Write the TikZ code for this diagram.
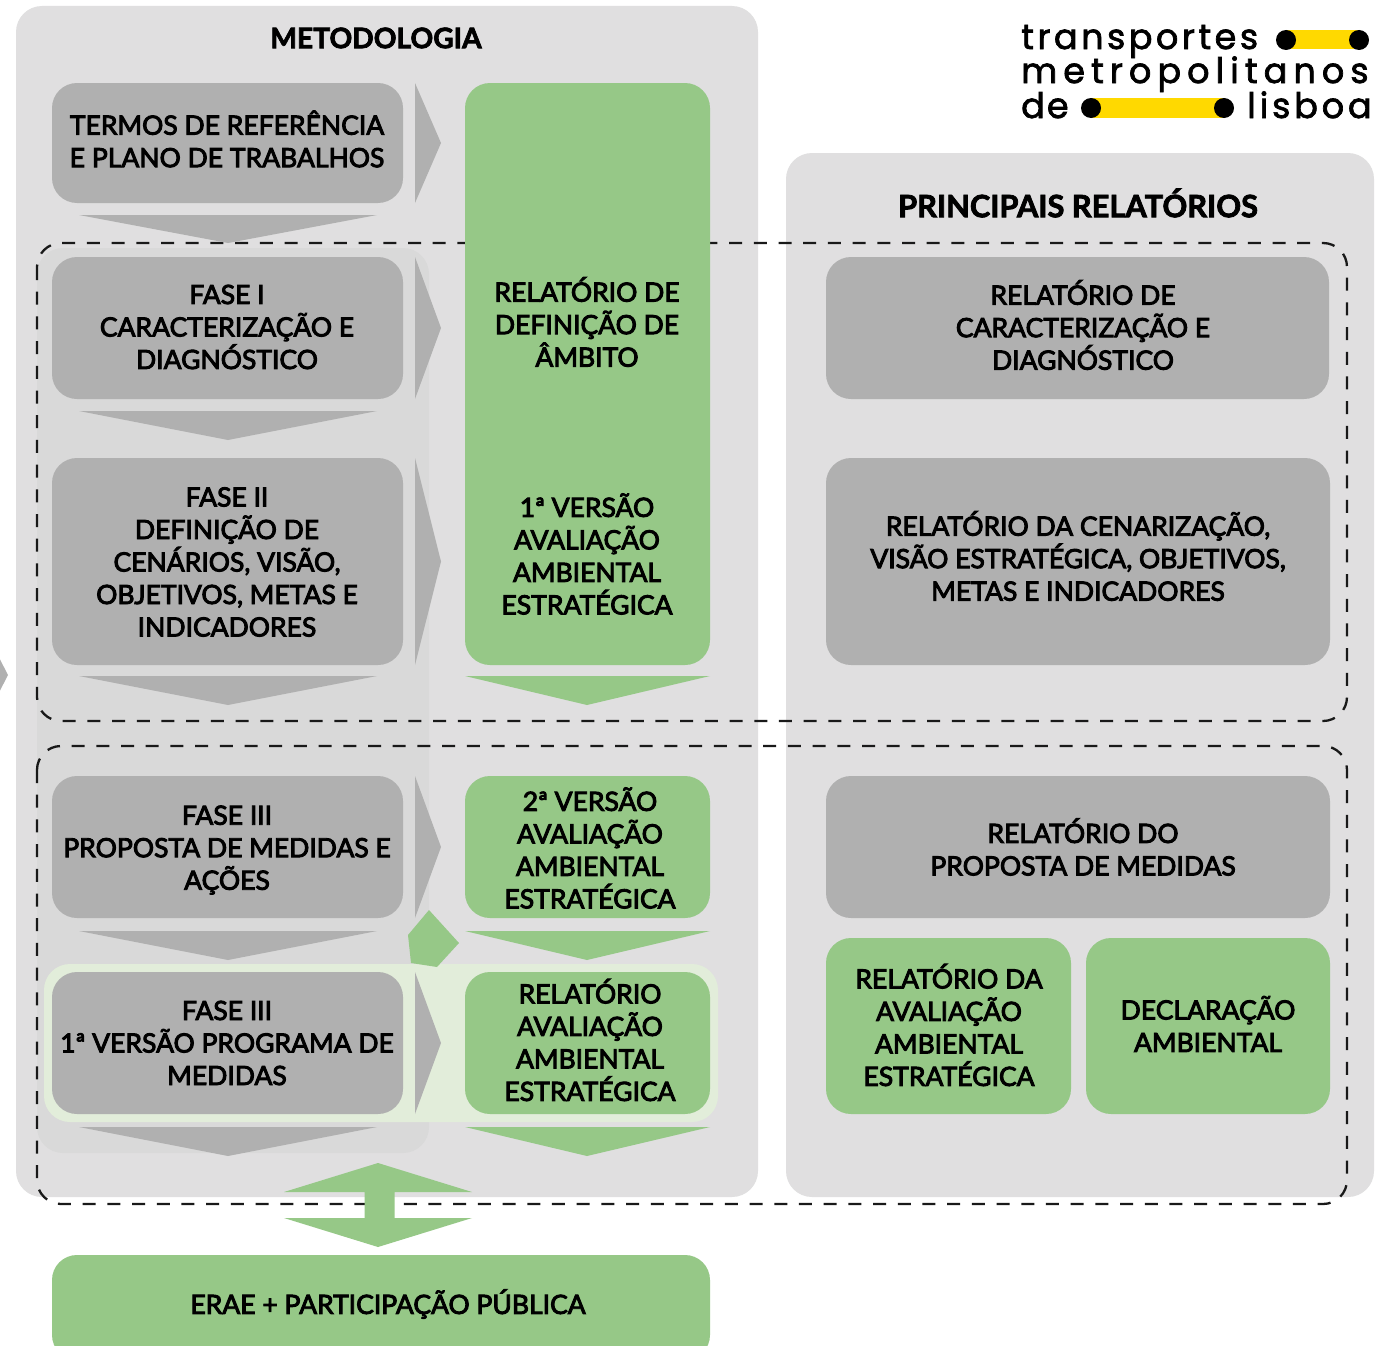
\documentclass[tikz,border=0pt]{standalone}
\usepackage{fontspec}
\setmainfont{Lato}[FakeBold=3.5]
\newfontfamily\titlefont{Lato Bold}[FakeBold=2.5]
\newfontfamily\logofont{Poppins}[FakeBold=2]
\definecolor{panel}{HTML}{E0DFE0}
\definecolor{layer}{HTML}{D9D9D9}
\definecolor{boxgray}{HTML}{B0B0B0}
\definecolor{boxgreen}{HTML}{96C887}
\definecolor{band}{HTML}{E2EDDA}
\definecolor{logoyellow}{HTML}{FFD900}
\newcommand{\bx}[6]{\node[#6,minimum width=#4pt-#2pt,minimum height=#5pt-#3pt] (#1) at ({(#2+#4)/2},{(#3+#5)/2}) {};}
\newcommand{\rarrow}[2]{\fill[boxgray] (415,#1) -- (441,{(#1+#2)/2}) -- (415,#2) -- cycle;}
\newcommand{\spaced}[2]{{\addfontfeature{LetterSpace=#1}#2}}
\tikzset{
  x=1pt,y=-1pt,
  box/.style={rounded corners=25pt,inner sep=0pt,outer sep=0pt,draw=none},
  graybox/.style={box,fill=boxgray},
  greenbox/.style={box,fill=boxgreen},
  panelbox/.style={rounded corners=26pt,inner sep=0pt,outer sep=0pt,fill=panel},
  label/.style={align=center,font=\fontsize{26.5}{32.5}\selectfont,text=black,inner sep=0pt},
  head/.style={font=\titlefont\fontsize{28.2}{32}\selectfont,text=black,inner sep=0pt},
  dashbox/.style={draw=black!90,line width=2.3pt,dash pattern=on 13pt off 11.7pt,rounded corners=24pt},
  logotext/.style={font=\logofont\fontsize{35}{35}\selectfont,anchor=base west,inner sep=0pt,text=black},
}
\begin{document}
\begin{tikzpicture}
\useasboundingbox (0,0) rectangle (1376,1346);
\clip (0,0) rectangle (1376,1346);
\fill[white] (0,0) rectangle (1376,1346);
% panels
\bx{pm}{16}{6}{758}{1197}{panelbox}
\bx{pr}{786}{153}{1374}{1197}{panelbox}
\bx{ly}{37}{248}{429}{1153}{panelbox,fill=layer}
\fill[boxgray] (-10,640) -- (8,675) -- (-10,710) -- cycle;
% dashed groups
\draw[dashbox] (37,243) rectangle (1347,721);
\draw[dashbox] (37,746) rectangle (1347,1204);
% highlighted band
\bx{bd}{44}{964}{718}{1122}{panelbox,fill=band}
% arrows
\rarrow{83}{203}\rarrow{257}{399}\rarrow{458}{665}\rarrow{776}{918}\rarrow{972}{1114}
\foreach \ya/\yb in {215/243,411/440,676/705,931/960,1127/1156}{
  \fill[boxgray] (79,\ya) -- (377,\ya) -- (228,\yb) -- cycle;
}
\foreach \ya/\yb in {676/705,931/960,1127/1156}{
  \fill[boxgreen] (465,\ya) -- (710,\ya) -- (587,\yb) -- cycle;
}
\fill[boxgreen] (429,910) -- (459,943) -- (437,967) -- (411,963) -- (408,935) -- cycle;
\fill[boxgreen] (378,1163) -- (472,1192) -- (394.5,1192) -- (394.5,1218) -- (472,1218) -- (378,1247) -- (284,1218) -- (364.5,1218) -- (364.5,1192) -- (284,1192) -- cycle;
% boxes
\bx{t0}{52}{83}{403}{203}{graybox}
\bx{f1}{52}{257}{403}{399}{graybox}
\bx{f2}{52}{458}{403}{665}{graybox}
\bx{f3}{52}{776}{403}{918}{graybox}
\bx{f4}{52}{972}{403}{1114}{graybox}
\bx{g1}{465}{83}{710}{665}{greenbox}
\bx{g2}{465}{776}{710}{918}{greenbox}
\bx{g3}{465}{972}{710}{1114}{greenbox}
\bx{r1}{826}{257}{1329}{399}{graybox}
\bx{r2}{826}{458}{1330}{665}{graybox}
\bx{r3}{826}{776}{1330}{918}{graybox}
\bx{r4}{826}{938}{1071}{1114}{greenbox}
\bx{r5}{1086}{938}{1330}{1114}{greenbox}
\bx{er}{52}{1255}{710}{1360}{greenbox}
% titles
\node[head] (tm) at (376,38) {METODOLOGIA};
\node[head,font=\titlefont\fontsize{30.8}{32}\selectfont] (tr) at (1078,203) {PRINCIPAIS RELATÓRIOS};
% texts
\node[label] (t0t) at (227,139) {TERMOS DE REFERÊNCIA\\E PLANO DE TRABALHOS};
\node[label] (f1t) at (227,327) {FASE I\\CARACTERIZAÇÃO E\\DIAGNÓSTICO};
\node[label] (f2t) at (227,562) {FASE II\\DEFINIÇÃO DE\\CENÁRIOS, VISÃO,\\OBJETIVOS, METAS E\\INDICADORES};
\node[label] (f3t) at (227,850) {FASE III\\PROPOSTA DE MEDIDAS E\\AÇÕES};
\node[label] (f4t) at (227,1043) {FASE III\\1ª VERSÃO PROGRAMA DE\\MEDIDAS};
\node[label] (g1a) at (587,322) {RELATÓRIO DE\\DEFINIÇÃO DE\\ÂMBITO};
\node[label] (g1b) at (587,554) {1ª VERSÃO\\AVALIAÇÃO\\AMBIENTAL\\ESTRATÉGICA};
\node[label] (g2t) at (590,848) {2ª VERSÃO\\AVALIAÇÃO\\AMBIENTAL\\ESTRATÉGICA};
\node[label] (g3t) at (590,1040) {RELATÓRIO\\AVALIAÇÃO\\AMBIENTAL\\ESTRATÉGICA};
\node[label] (r1t) at (1083,325) {RELATÓRIO DE\\CARACTERIZAÇÃO E\\DIAGNÓSTICO};
\node[label] (r2t) at (1078,556) {RELATÓRIO DA CENARIZAÇÃO,\\VISÃO ESTRATÉGICA, OBJETIVOS,\\METAS E INDICADORES};
\node[label] (r3t) at (1083,847) {RELATÓRIO DO\\PROPOSTA DE MEDIDAS};
\node[label] (r4t) at (949,1025) {RELATÓRIO DA\\AVALIAÇÃO\\AMBIENTAL\\ESTRATÉGICA};
\node[label] (r5t) at (1208,1024) {DECLARAÇÃO\\AMBIENTAL};
\node[label] (ert) at (388,1304) {ERAE + PARTICIPAÇÃO PÚBLICA};
% logo
\node[logotext] (l1) at (1021,49) {\spaced{10}{transportes}};
\node[logotext] (l2) at (1021,83) {\spaced{17.3}{metropolitanos}};
\node[logotext] (l3) at (1021,118) {\spaced{6}{de}};
\node[logotext] (l4) at (1247,118) {\spaced{11}{lisboa}};
\fill[logoyellow] (1285,30) rectangle (1359,49);
\fill[logoyellow] (1091,98) rectangle (1224,118);
\foreach \p in {(1286,40),(1359,40),(1091,108),(1224,108)}{\fill[black] \p circle (10);}
\end{tikzpicture}
\end{document}
